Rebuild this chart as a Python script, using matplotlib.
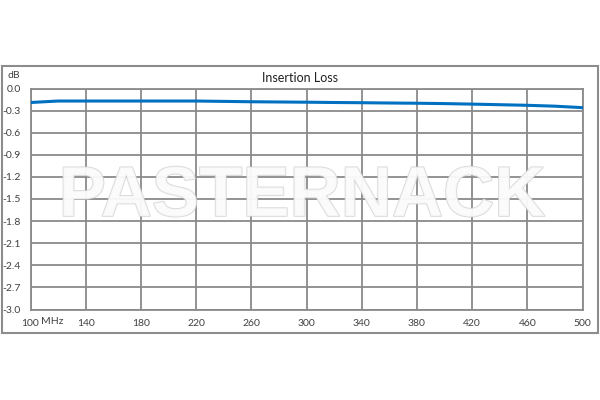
import matplotlib.pyplot as plt
import matplotlib.patheffects as pe
from matplotlib.patches import Rectangle

# Insertion loss vs frequency
freq_mhz = [100, 110, 120, 140, 160, 180, 200, 220, 240, 260, 280, 300,
            320, 340, 360, 380, 400, 420, 440, 460, 480, 500]
loss_db = [-0.19, -0.18, -0.17, -0.17, -0.17, -0.17, -0.17, -0.17, -0.175, -0.18, -0.183, -0.186,
           -0.19, -0.193, -0.197, -0.20, -0.205, -0.212, -0.22, -0.228, -0.24, -0.26]

x_ticks = [100, 140, 180, 220, 260, 300, 340, 380, 420, 460, 500]
y_ticks = [0.0, -0.3, -0.6, -0.9, -1.2, -1.5, -1.8, -2.1, -2.4, -2.7, -3.0]

plt.rcParams['font.family'] = ['Lato', 'DejaVu Sans']

fig = plt.figure(figsize=(6, 4), dpi=100)
ax = fig.add_axes([30.5 / 600, 90.5 / 400, 552 / 600, 221 / 400])

# outer chart frame
fig.patches.append(Rectangle((2 / 600, 67 / 400), 596 / 600, 267 / 400,
                             transform=fig.transFigure, fill=False,
                             edgecolor='#8c8c8c', linewidth=1.5))

ax.plot(freq_mhz, loss_db, color='#0070C0', linewidth=2.2, zorder=3)

ax.set_xlim(100, 500)
ax.set_ylim(-3.0, 0.0)
ax.set_xticks(x_ticks)
ax.set_yticks(y_ticks)
ax.set_xticklabels([str(v) for v in x_ticks])
ax.set_yticklabels(['%.1f' % v for v in y_ticks])
ax.grid(True, color='#8a8a8a', linewidth=1.3)
ax.set_axisbelow(True)
for s in ax.spines.values():
    s.set_color('#8a8a8a')
    s.set_linewidth(1.3)
ax.tick_params(length=0, labelsize=7.5, labelcolor='#404040')
ax.tick_params(axis='x', pad=7)
ax.tick_params(axis='y', pad=7)

fig.text(300 / 600, 1 - 78 / 400, 'Insertion Loss', ha='center', va='center',
         fontsize=9, color='#202020')
fig.text(7 / 600, 1 - 75 / 400, 'dB', ha='left', va='center',
         fontsize=7.5, color='#404040')
fig.text(52 / 600, 1 - 322 / 400, 'MHz', ha='center', va='center',
         fontsize=7.5, color='#404040')

# watermark
wm = fig.text(302 / 600, 1 - 198 / 400, 'PASTERNACK', ha='center', va='center',
              fontsize=51, fontweight='bold', family='Liberation Sans',
              color='#fbfbfb', alpha=0.8, zorder=10)
wm.set_path_effects([pe.Stroke(linewidth=1.2, foreground='#cfcfcf'), pe.Normal()])

fig.savefig('out.png', dpi=100)
